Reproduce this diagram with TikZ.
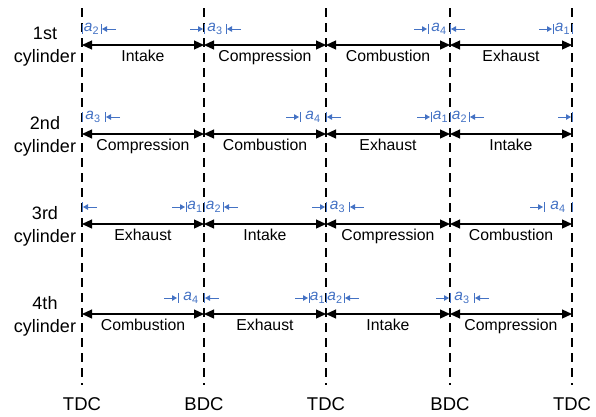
\documentclass[tikz,border=0pt]{standalone}
\usepackage{fontspec}
\setmainfont{Liberation Sans}
\usetikzlibrary{arrows.meta}
\definecolor{dimblue}{RGB}{68,114,196}
\tikzset{
  guide/.style={black, line width=1.25pt, dash pattern=on 9pt off 6pt},
  strokearrow/.style={black, line width=1.2pt, {Triangle[length=10pt,width=9pt]}-{Triangle[length=10pt,width=9pt]}},
  strokelabel/.style={font=\fontsize{15.8}{16}\selectfont, inner sep=0pt, midway, below=4pt},
  cyl/.style={font=\fontsize{18}{23}\selectfont, align=center, inner sep=0pt},
  dclabel/.style={font=\fontsize{18.5}{19}\selectfont, inner sep=0pt},
  dimtick/.style={dimblue, line width=1pt},
  dimarrow/.style={dimblue, line width=1pt, -{Triangle[length=5pt,width=5.5pt]}},
  dimlabel/.style={dimblue, font=\fontsize{15.5}{16}\selectfont\itshape, inner sep=0pt},
}
\newcommand\dmT[2]{\draw[dimtick] (#1,#2) ++(0,-5) -- ++(0,10);}
\newcommand\dmR[2]{\draw[dimarrow] (#1,#2) ++(-14,0) -- ++(13,0);}
\newcommand\dmL[2]{\draw[dimarrow] (#1,#2) ++(15,0) -- ++(-14,0);}
\newcommand\dmA[3]{\node[dimlabel] at (#1,#2) {a\textsubscript{\upshape #3}};}
\begin{document}
\begin{tikzpicture}[x=1pt,y=-1pt]
\useasboundingbox (0,0) rectangle (596,416);
% guide lines
\foreach \i/\x in {0/82,1/204,2/326,3/450,4/572}{
  \coordinate (T\i) at (\x,8);
  \coordinate (B\i) at (\x,385);
  \draw[guide] (T\i) -- (B\i);
  \foreach \r/\y in {1/45,2/134,3/224,4/314}{
    \coordinate (R\r L\i) at (\x,\y);
  }
}
% dead centre labels
\node[dclabel] (d0) at (82,404) {TDC};
\node[dclabel] (d1) at (204,404) {BDC};
\node[dclabel] (d2) at (326,404) {TDC};
\node[dclabel] (d3) at (450,404) {BDC};
\node[dclabel] (d4) at (572,404) {TDC};
% cylinder labels
\node[cyl] (c1) at (45,47) {1st\\cylinder};
\node[cyl] (c2) at (45,136) {2nd\\cylinder};
\node[cyl] (c3) at (45,226) {3rd\\cylinder};
\node[cyl] (c4) at (45,316) {4th\\cylinder};
% strokes
\draw[strokearrow] (R1L0) -- node[strokelabel] {Intake} (R1L1);
\draw[strokearrow] (R1L1) -- node[strokelabel] {Compression} (R1L2);
\draw[strokearrow] (R1L2) -- node[strokelabel] {Combustion} (R1L3);
\draw[strokearrow] (R1L3) -- node[strokelabel] {Exhaust} (R1L4);
\draw[strokearrow] (R2L0) -- node[strokelabel] {Compression} (R2L1);
\draw[strokearrow] (R2L1) -- node[strokelabel] {Combustion} (R2L2);
\draw[strokearrow] (R2L2) -- node[strokelabel] {Exhaust} (R2L3);
\draw[strokearrow] (R2L3) -- node[strokelabel] {Intake} (R2L4);
\draw[strokearrow] (R3L0) -- node[strokelabel] {Exhaust} (R3L1);
\draw[strokearrow] (R3L1) -- node[strokelabel] {Intake} (R3L2);
\draw[strokearrow] (R3L2) -- node[strokelabel] {Compression} (R3L3);
\draw[strokearrow] (R3L3) -- node[strokelabel] {Combustion} (R3L4);
\draw[strokearrow] (R4L0) -- node[strokelabel] {Combustion} (R4L1);
\draw[strokearrow] (R4L1) -- node[strokelabel] {Exhaust} (R4L2);
\draw[strokearrow] (R4L2) -- node[strokelabel] {Intake} (R4L3);
\draw[strokearrow] (R4L3) -- node[strokelabel] {Compression} (R4L4);
% row 1 offsets
\dmT{82}{29}\dmT{101}{29}\dmL{101}{29}\dmA{91.5}{29}{2}
\dmT{204}{29}\dmT{226}{29}\dmR{204}{29}\dmL{226}{29}\dmA{215}{29}{3}
\dmT{428}{29}\dmT{450}{29}\dmR{428}{29}\dmL{450}{29}\dmA{439}{29}{4}
\dmT{553}{29}\dmT{572}{29}\dmR{553}{29}\dmA{562.5}{29}{1}
% row 2 offsets
\dmT{82}{117}\dmT{105}{117}\dmL{105}{117}\dmA{93}{117}{3}
\dmT{300}{117}\dmT{326}{117}\dmR{300}{117}\dmL{326}{117}\dmA{313}{117}{4}
\dmT{431}{117}\dmT{450}{117}\dmT{469}{117}\dmR{431}{117}\dmL{469}{117}\dmA{440.5}{117}{1}\dmA{459.5}{117}{2}
\dmT{572}{117}\dmR{572}{117}
% row 3 offsets
\dmT{82}{207}\dmL{82}{207}
\dmT{186}{207}\dmT{204}{207}\dmT{223}{207}\dmR{186}{207}\dmL{223}{207}\dmA{195}{207}{1}\dmA{213.5}{207}{2}
\dmT{326}{207}\dmT{349}{207}\dmR{326}{207}\dmL{349}{207}\dmA{337.5}{207}{3}
\dmT{544}{207}\dmT{572}{207}\dmR{544}{207}\dmA{558}{207}{4}
% row 4 offsets
\dmT{178}{298}\dmT{204}{298}\dmR{178}{298}\dmL{204}{298}\dmA{191}{298}{4}
\dmT{309}{298}\dmT{326}{298}\dmT{344}{298}\dmR{309}{298}\dmL{344}{298}\dmA{317.5}{298}{1}\dmA{335}{298}{2}
\dmT{450}{298}\dmT{474}{298}\dmR{450}{298}\dmL{474}{298}\dmA{462}{298}{3}
\end{tikzpicture}
\end{document}
